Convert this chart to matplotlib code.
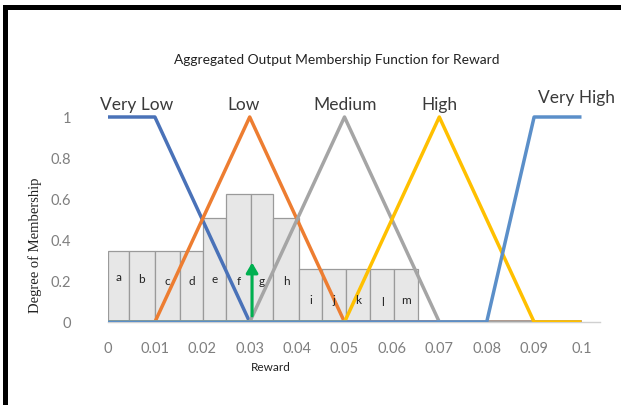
import matplotlib
matplotlib.use("Agg")
import matplotlib.pyplot as plt
from matplotlib.patches import Rectangle

# Membership functions sampled on the reward axis
reward = [0, 0.01, 0.02, 0.03, 0.04, 0.05, 0.06, 0.07, 0.08, 0.09, 0.1]
very_low = [1, 1, 0.5, 0, 0, 0, 0, 0, 0, 0, 0]
low = [0, 0, 0.5, 1, 0.5, 0, 0, 0, 0, 0, 0]
medium = [0, 0, 0, 0, 0.5, 1, 0.5, 0, 0, 0, 0]
high = [0, 0, 0, 0, 0, 0, 0.5, 1, 0.5, 0, 0]
very_high = [0, 0, 0, 0, 0, 0, 0, 0, 0, 1, 1]
series_names = ["Very Low", "Low", "Medium", "High", "Very High"]

# Slices of the aggregated output used for the centroid
slice_edges = [0, 0.0045, 0.01, 0.0152, 0.0202, 0.025, 0.0302, 0.035,
               0.0404, 0.0452, 0.0503, 0.0554, 0.0605, 0.0656]
slice_heights = [0.345, 0.345, 0.345, 0.345, 0.505, 0.625, 0.625, 0.505,
                 0.26, 0.26, 0.26, 0.26, 0.26]
slice_labels = list("abcdefghijklm")
slice_label_y = [0.22, 0.21, 0.20, 0.20, 0.21, 0.20, 0.20, 0.20,
                 0.11, 0.11, 0.11, 0.10, 0.11]

centroid = 0.0305
centroid_degree = 0.29

colors = ["#4A72B8", "#ED7D31", "#A5A5A5", "#FFC000", "#5B8FC9"]
label_pos = [(0.0062, 1.063), (0.0288, 1.063), (0.0501, 1.063),
             (0.0700, 1.063), (0.0990, 1.097)]

W, H = 621, 406
fig = plt.figure(figsize=(W / 100, H / 100), dpi=100)

# axes placement in pixels
x0_px, x1_px = 107.5, 600
px_per_unit_x = 4740.0
y0_px = 323
px_per_unit_y = 205.0
ytop = 1.09
ax = fig.add_axes([x0_px / W, 1 - y0_px / H,
                   (x1_px - x0_px) / W, ytop * px_per_unit_y / H])
ax.set_xlim(0, (x1_px - x0_px) / px_per_unit_x)
ax.set_ylim(0, ytop)

# slices
for i, lab in enumerate(slice_labels):
    left = slice_edges[i]
    width = slice_edges[i + 1] - slice_edges[i]
    ax.add_patch(Rectangle((left, 0), width, slice_heights[i],
                           facecolor="#E7E7E7", edgecolor="#9A9A9A",
                           linewidth=0.9, zorder=1))
    ax.text(left + width / 2, slice_label_y[i], lab, ha="center",
            va="center", fontsize=8.5, color="#222222", family="Lato",
            zorder=5)

# membership lines
for vals, c in zip([very_low, low, medium, high, very_high], colors):
    ax.plot(reward, vals, color=c, linewidth=2.5,
            solid_capstyle="butt", zorder=3)

for name, (lx, ly) in zip(series_names, label_pos):
    ax.text(lx, ly, name, ha="center", va="center", fontsize=12.5,
            color="#3A3A3A", family="Lato", clip_on=False)

# centroid arrow
ax.annotate("", xy=(centroid, centroid_degree), xytext=(centroid, 0.03),
            arrowprops=dict(arrowstyle="-|>,head_width=0.35,head_length=0.6",
                            color="#00B050", lw=2.2, shrinkA=0, shrinkB=0),
            zorder=6)

for s in ["top", "right", "left"]:
    ax.spines[s].set_visible(False)
ax.spines["bottom"].set_color("#D0D0D0")
ax.spines["bottom"].set_linewidth(1.0)
ax.spines["bottom"].set_zorder(0)

xticks = [0, 0.01, 0.02, 0.03, 0.04, 0.05, 0.06, 0.07, 0.08, 0.09, 0.1]
xtick_labels = ["0", "0.01", "0.02", "0.03", "0.04", "0.05", "0.06",
                "0.07", "0.08", "0.09", "0.1"]
yticks = [0, 0.2, 0.4, 0.6, 0.8, 1]
ytick_labels = ["0", "0.2", "0.4", "0.6", "0.8", "1"]
ax.set_xticks(xticks)
ax.set_xticklabels(xtick_labels)
ax.set_yticks(yticks)
ax.set_yticklabels(ytick_labels)
ax.tick_params(length=0, labelsize=10.5, labelcolor="#7F7F7F")
ax.tick_params(axis="x", pad=14)
ax.tick_params(axis="y", pad=26)
for t in ax.get_xticklabels() + ax.get_yticklabels():
    t.set_family("Lato")

fig.text(337 / W, 1 - 60 / H, "Aggregated Output Membership Function for Reward",
         ha="center", va="center", fontsize=9.9, color="#222222",
         family="Lato")
fig.text(271 / W, 1 - 368 / H, "Reward", ha="center", va="center",
         fontsize=8.5, color="#222222", family="Lato")
fig.text(35 / W, 1 - 245 / H, "Degree of Membership", ha="center",
         va="center", rotation=90, fontsize=10.5, color="#222222",
         family="Liberation Serif")

# frame around the figure
fig.add_artist(Rectangle((3 / W, 0), 5 / W, 1 - 6 / H, transform=fig.transFigure,
                         facecolor="black", edgecolor="none"))
fig.add_artist(Rectangle((3 / W, 1 - 11 / H), 1, 5 / H, transform=fig.transFigure,
                         facecolor="black", edgecolor="none"))

fig.savefig("out.png", dpi=100)
